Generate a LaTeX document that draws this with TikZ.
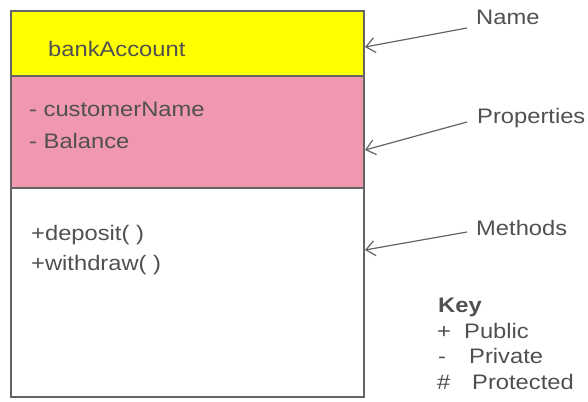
\documentclass[tikz,border=0pt]{standalone}
\usepackage{fontspec}
\setmainfont{Liberation Sans}[FakeStretch=1.13]
\usetikzlibrary{arrows.meta}
\definecolor{ink}{RGB}{80,80,80}
\definecolor{edge}{RGB}{100,100,100}
\definecolor{namefill}{RGB}{255,255,0}
\definecolor{propfill}{RGB}{240,152,175}
\newcommand{\keyrow}[3]{\hbox to #1{#2\hfil}#3}

\begin{document}
\begin{tikzpicture}[x=1pt,y=-1pt,
  compartment/.style={draw=edge, line width=1.6pt, minimum width=353pt,
    inner sep=0pt, anchor=north west},
  txt/.style={anchor=base west, inner sep=0pt, text=ink,
    font=\fontsize{21}{25}\selectfont},
  pointer/.style={draw=edge, line width=1.2pt,
    -{Straight Barb[length=9pt,width=15pt,line width=1.2pt]}}
]
\useasboundingbox (0,0) rectangle (588,401);

% class box: name, properties, methods
\node[compartment, fill=namefill, minimum height=65pt] (nameBox) at (10,10) {};
\node[compartment, fill=propfill, minimum height=112pt] (propBox) at (10,75) {};
\node[compartment, fill=white, minimum height=209pt] (methBox) at (10,187) {};

% compartment contents
\node[txt] (className) at (48,57) {bankAccount};
\node[txt] (prop1) at (29,117) {- customerName};
\node[txt] (prop2) at (29,148) {- Balance};
\node[txt] (meth1) at (31,240) {+deposit( )};
\node[txt] (meth2) at (31,270) {+withdraw( )};

% callout labels
\node[txt] (nameLbl) at (476,25) {Name};
\node[txt] (propLbl) at (477,124) {Properties};
\node[txt] (methLbl) at (476,235) {Methods};

\coordinate (nameTip) at (365,47);
\coordinate (propTip) at (365,150);
\coordinate (methTip) at (365,250);

\draw[pointer] ([shift={(-9,3)}]nameLbl.base west) -- (nameTip);
\draw[pointer] ([shift={(-10,-2)}]propLbl.base west) -- (propTip);
\draw[pointer] ([shift={(-9,-3)}]methLbl.base west) -- (methTip);

% visibility key
\node[txt, font=\fontsize{21}{25}\selectfont\bfseries] (keyTitle) at (438,312) {Key};
\node[txt] (keyPub) at (437,338) {\keyrow{27pt}{+}{Public}};
\node[txt] (keyPriv) at (438,363) {\keyrow{31pt}{-}{Private}};
\node[txt] (keyProt) at (437,389) {\keyrow{35pt}{\#}{Protected}};
\end{tikzpicture}
\end{document}
